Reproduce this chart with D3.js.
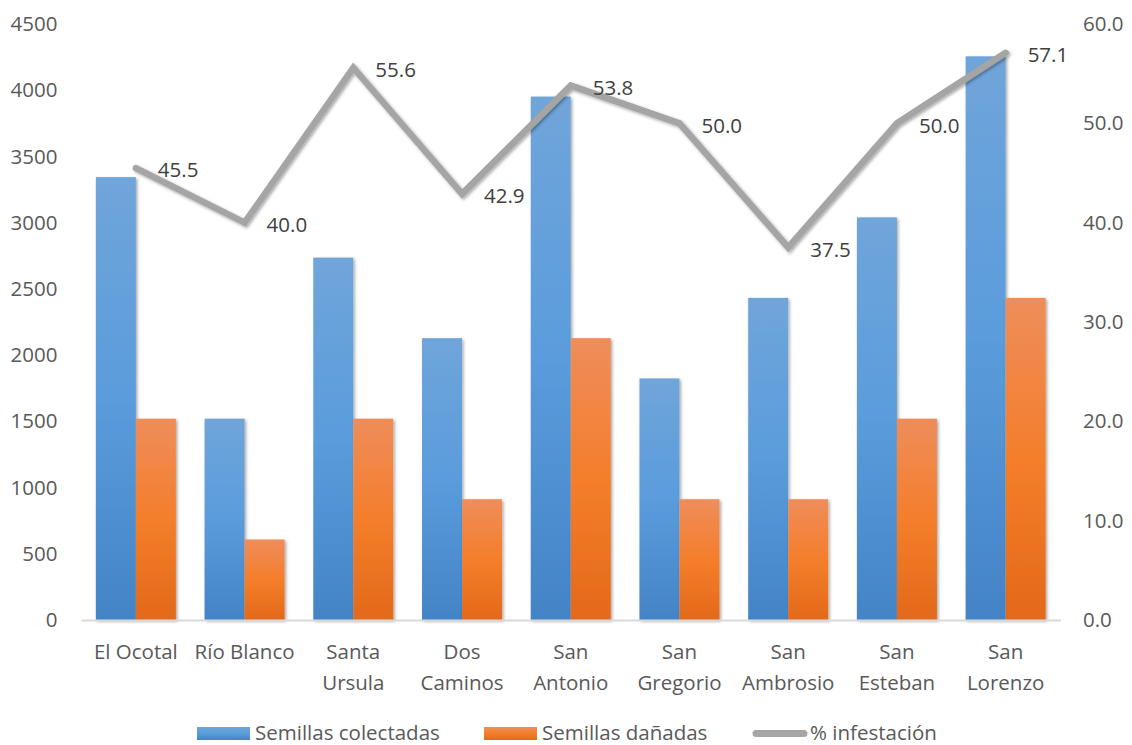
<!DOCTYPE html>
<html>
<head>
<meta charset="utf-8">
<script src="https://cdn.jsdelivr.net/npm/d3@7"></script>
<style>
  body { margin: 0; background: #fff; }
  svg text { font-family: "Open Sans", sans-serif; }
</style>
</head>
<body>
<div id="chart"></div>
<script>
// data
var categories = ["El Ocotal", "Río Blanco", "Santa Ursula", "Dos Caminos", "San Antonio",
                  "San Gregorio", "San Ambrosio", "San Esteban", "San Lorenzo"];
var categoryLines = [["El Ocotal"], ["Río Blanco"], ["Santa", "Ursula"], ["Dos", "Caminos"],
                     ["San", "Antonio"], ["San", "Gregorio"], ["San", "Ambrosio"],
                     ["San", "Esteban"], ["San", "Lorenzo"]];
var colectadas = [3344, 1520, 2736, 2128, 3952, 1824, 2432, 3040, 4256];
var danadas    = [1520, 608, 1520, 912, 2128, 912, 912, 1520, 2432];
var infestacion = [45.5, 40.0, 55.6, 42.9, 53.8, 50.0, 37.5, 50.0, 57.1];
var seriesNames = ["Semillas colectadas", "Semillas dañadas", "% infestación"];
var leftTicks = [0, 500, 1000, 1500, 2000, 2500, 3000, 3500, 4000, 4500];
var rightTicks = [0, 10, 20, 30, 40, 50, 60];

var W = 1132, H = 745;
var plot = {left: 81.5, right: 1060, top: 24, bottom: 620};
var fontSize = "20.5px";

var svg = d3.select("#chart").append("svg")
    .attr("width", W)
    .attr("height", H);

var defs = svg.append("defs");

// gradients, one per series, applied per bar
function grad(id, stops) {
  var g = defs.append("linearGradient")
      .attr("id", id)
      .attr("x1", 0).attr("y1", 0).attr("x2", 0).attr("y2", 1);
  stops.forEach(function (s) {
    g.append("stop").attr("offset", s[0]).attr("stop-color", s[1]);
  });
}
grad("gBlue", [[0, "#70a5da"], [0.5, "#5a9cdc"], [1, "#4384c6"]]);
grad("gOrange", [[0, "#ef8d5b"], [0.5, "#f47e2b"], [1, "#e3691a"]]);

var shadow = defs.append("filter")
    .attr("id", "shadow")
    .attr("x", "-20%").attr("y", "-20%")
    .attr("width", "140%").attr("height", "140%");
shadow.append("feDropShadow")
    .attr("dx", 1.5).attr("dy", 1.5)
    .attr("stdDeviation", 1.8)
    .attr("flood-color", "#000")
    .attr("flood-opacity", 0.35);

// scales
var x = d3.scaleBand()
    .domain(categories)
    .range([plot.left, plot.right])
    .paddingInner(0.264)
    .paddingOuter(0.132);

var xSub = d3.scaleBand()
    .domain([0, 1])
    .range([0, x.bandwidth()]);

var yL = d3.scaleLinear().domain([0, 4500]).range([plot.bottom, plot.top]);
var yR = d3.scaleLinear().domain([0, 60]).range([plot.bottom, plot.top]);

// axes
var axisLeft = svg.append("g")
    .attr("transform", "translate(" + plot.left + ",0)")
    .call(d3.axisLeft(yL).tickValues(leftTicks).tickSize(0).tickPadding(24)
      .tickFormat(d3.format("d")));
axisLeft.select(".domain").remove();

var axisRight = svg.append("g")
    .attr("transform", "translate(" + plot.right + ",0)")
    .call(d3.axisRight(yR).tickValues(rightTicks).tickSize(0).tickPadding(23)
      .tickFormat(d3.format(".1f")));
axisRight.select(".domain").remove();

svg.selectAll(".tick text")
    .style("font-size", fontSize)
    .attr("fill", "#595959");

// bars
var groups = svg.selectAll(".cat")
  .data(categories)
  .enter().append("g")
    .attr("class", "cat")
    .attr("transform", d => "translate(" + x(d) + ",0)");

groups.append("rect")
    .attr("x", xSub(0))
    .attr("y", (d, i) => yL(colectadas[i]))
    .attr("width", xSub.bandwidth())
    .attr("height", (d, i) => plot.bottom - yL(colectadas[i]))
    .attr("fill", "url(#gBlue)")
    .attr("filter", "url(#shadow)");

groups.append("rect")
    .attr("x", xSub(1))
    .attr("y", (d, i) => yL(danadas[i]))
    .attr("width", xSub.bandwidth())
    .attr("height", (d, i) => plot.bottom - yL(danadas[i]))
    .attr("fill", "url(#gOrange)")
    .attr("filter", "url(#shadow)");

// baseline
svg.append("line")
    .attr("x1", plot.left).attr("x2", plot.right + 1)
    .attr("y1", plot.bottom + 0.5).attr("y2", plot.bottom + 0.5)
    .attr("stroke", "#d9d9d9")
    .attr("stroke-width", 2);

// category labels
var catLabels = svg.selectAll(".catlabel")
  .data(categoryLines)
  .enter().append("text")
    .attr("class", "catlabel")
    .attr("text-anchor", "middle")
    .attr("fill", "#595959")
    .style("font-size", fontSize)
    .attr("transform", (d, i) => "translate(" + (x(categories[i]) + x.bandwidth() / 2) + ",659)");
catLabels.selectAll("tspan")
  .data(d => d)
  .enter().append("tspan")
    .attr("x", 0)
    .attr("y", (d, i) => i * 31)
    .text(d => d);

// infestation line
var cx = (d, i) => x(categories[i]) + x.bandwidth() / 2;
var line = d3.line()
    .x(cx)
    .y(d => yR(d));

svg.append("path")
    .datum(infestacion)
    .attr("d", line)
    .attr("fill", "none")
    .attr("stroke", "#a5a5a5")
    .attr("stroke-width", 6.5)
    .attr("stroke-linejoin", "miter")
    .attr("stroke-linecap", "round")
    .attr("filter", "url(#shadow)");

svg.selectAll(".vlabel")
  .data(infestacion)
  .enter().append("text")
    .attr("class", "vlabel")
    .attr("x", (d, i) => cx(d, i) + 22)
    .attr("y", d => yR(d) + 2)
    .attr("dy", "0.35em")
    .attr("fill", "#404040")
    .style("font-size", fontSize)
    .text(d => d.toFixed(1));

// legend
var legend = svg.append("g").attr("class", "legend");
var legendX = [197, 484, 752];

legend.append("rect")
    .attr("x", legendX[0]).attr("y", 727)
    .attr("width", 53).attr("height", 13)
    .attr("fill", "url(#gBlue)");
legend.append("rect")
    .attr("x", legendX[1]).attr("y", 727)
    .attr("width", 53).attr("height", 13)
    .attr("fill", "url(#gOrange)");
legend.append("line")
    .attr("x1", legendX[2] + 4).attr("x2", legendX[2] + 52)
    .attr("y1", 733.5).attr("y2", 733.5)
    .attr("stroke", "#a5a5a5")
    .attr("stroke-width", 7)
    .attr("stroke-linecap", "round");

legend.selectAll("text")
  .data(seriesNames)
  .enter().append("text")
    .attr("x", (d, i) => legendX[i] + 58)
    .attr("y", 733)
    .attr("dy", "0.35em")
    .attr("fill", "#595959")
    .style("font-size", fontSize)
    .text(d => d);
</script>
</body>
</html>
